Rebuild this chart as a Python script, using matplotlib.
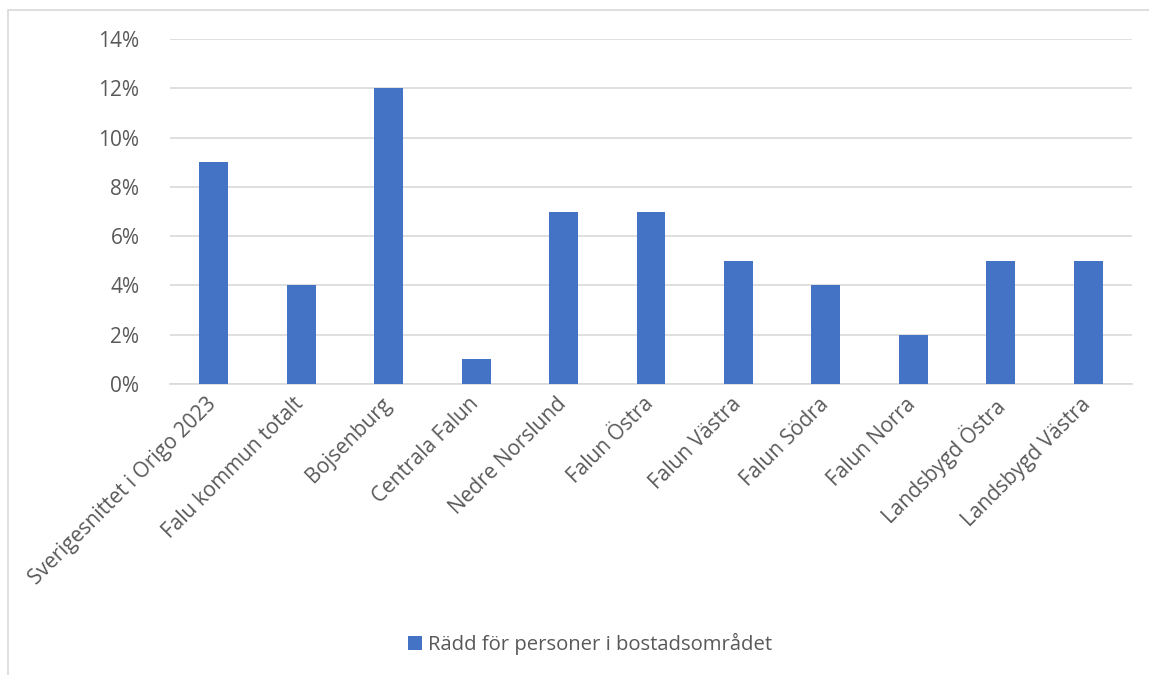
import matplotlib.pyplot as plt
import matplotlib.transforms as mtransforms
from matplotlib.patches import Rectangle
from matplotlib.ticker import PercentFormatter

# Data
categories = [
    "Sverigesnittet i Origo 2023", "Falu kommun totalt", "Bojsenburg",
    "Centrala Falun", "Nedre Norslund", "Falun Östra", "Falun Västra",
    "Falun Södra", "Falun Norra", "Landsbygd Östra", "Landsbygd Västra",
]
values = [9, 4, 12, 1, 7, 7, 5, 4, 2, 5, 5]
series_name = "Rädd för personer i bostadsområdet"

plt.rcParams['font.family'] = ['Open Sans', 'DejaVu Sans']
text_col = "#595959"
grid_col = "#D9D9D9"
bar_col = "#4472C4"

fig = plt.figure(figsize=(11.49, 6.75), dpi=100)

# chart frame (cut off at right and bottom)
fig.patches.append(Rectangle((8 / 1149, -0.1), 1.2, 1.1 - 10 / 675,
                             transform=fig.transFigure, fill=False,
                             edgecolor=grid_col, linewidth=1.2))

ax = fig.add_axes([170 / 1149, 1 - 384 / 675, (1132 - 170) / 1149, (384 - 39) / 675])

x = range(len(categories))
ax.bar(x, values, width=0.33, color=bar_col, label=series_name, zorder=3)

ax.set_xlim(-0.5, len(categories) - 0.5)
ax.set_ylim(0, 14)
ax.set_yticks(range(0, 15, 2))
ax.yaxis.set_major_formatter(PercentFormatter(decimals=0))
ax.grid(axis='y', color=grid_col, linewidth=1.2, zorder=0)

for s in ["top", "right", "left"]:
    ax.spines[s].set_visible(False)
ax.spines["bottom"].set_color(grid_col)
ax.spines["bottom"].set_linewidth(1.2)

ax.tick_params(axis='y', length=0, pad=22, labelsize=15, labelcolor=text_col)
ax.tick_params(axis='x', length=0, pad=7, labelsize=15, labelcolor=text_col)
ax.set_xticks(list(x))
ax.set_xticklabels(categories, rotation=45, ha='right', va='top',
                   rotation_mode='anchor')
shift = mtransforms.ScaledTranslation(-8 / 100, 0, fig.dpi_scale_trans)
for lbl in ax.get_xticklabels():
    lbl.set_transform(lbl.get_transform() + shift)

leg = fig.legend(loc='center', bbox_to_anchor=(590 / 1149, 1 - 644 / 675),
                 frameon=False, fontsize=14.6, handlelength=0.7, handleheight=0.7,
                 handletextpad=0.3)
for t in leg.get_texts():
    t.set_color(text_col)

fig.savefig("out.png", dpi=100)
